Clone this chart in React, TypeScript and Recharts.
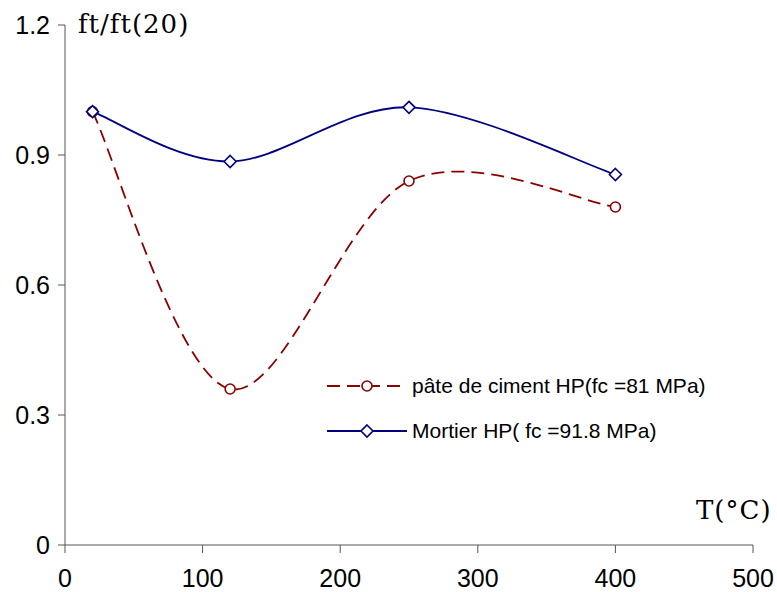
import React from 'react';
import { LineChart, Line, XAxis, YAxis } from 'recharts';

const temps = [20, 120, 250, 400];
const pateValues = [1.0, 0.36, 0.84, 0.78];
const mortierValues = [1.0, 0.885, 1.01, 0.855];
const xTicks = [0, 100, 200, 300, 400, 500];
const yTicks = [0, 0.3, 0.6, 0.9, 1.2];

const chartData = temps.map((t, i) => ({
  t,
  pate: pateValues[i],
  mortier: mortierValues[i],
}));

const RED = '#8b0000';
const BLUE = '#000080';
const SANS = 'Liberation Sans, Arial, sans-serif';

// smoothing like a spreadsheet "smoothed line": bezier with tangents (P[i+1]-P[i-1])/6
const smoothCurve = (context: any) => {
  let pts: number[][] = [];
  return {
    areaStart() {},
    areaEnd() {},
    lineStart() {
      pts = [];
    },
    point(x: number, y: number) {
      pts.push([+x, +y]);
    },
    lineEnd() {
      const n = pts.length;
      if (!n) return;
      context.moveTo(pts[0][0], pts[0][1]);
      for (let i = 0; i < n - 1; i++) {
        const p0 = pts[Math.max(i - 1, 0)];
        const p1 = pts[i];
        const p2 = pts[i + 1];
        const p3 = pts[Math.min(i + 2, n - 1)];
        context.bezierCurveTo(
          p1[0] + (p2[0] - p0[0]) / 6,
          p1[1] + (p2[1] - p0[1]) / 6,
          p2[0] - (p3[0] - p1[0]) / 6,
          p2[1] - (p3[1] - p1[1]) / 6,
          p2[0],
          p2[1]
        );
      }
    },
  };
};

const Diamond = (props: any) => {
  const { cx, cy, stroke } = props;
  if (cx == null || cy == null) return null;
  const s = 6;
  return (
    <path
      d={`M${cx},${cy - s}L${cx + s},${cy}L${cx},${cy + s}L${cx - s},${cy}Z`}
      fill="#fff"
      stroke={stroke}
      strokeWidth={1.6}
    />
  );
};

const Circle = (props: any) => {
  const { cx, cy, stroke } = props;
  if (cx == null || cy == null) return null;
  return <circle cx={cx} cy={cy} r={5} fill="#fff" stroke={stroke} strokeWidth={1.6} />;
};

const LegendBox = () => (
  <svg width={420} height={80} style={{ overflow: 'visible', display: 'block' }}>
    <line x1={5} y1={15} x2={85} y2={15} stroke={RED} strokeWidth={1.8} strokeDasharray="13 7" />
    <circle cx={45} cy={15} r={5} fill="#fff" stroke={RED} strokeWidth={1.6} />
    <text x={90} y={22} fontSize={21} fontFamily={SANS} fill="#000">
      pâte de ciment HP(fc =81 MPa)
    </text>
    <line x1={5} y1={60} x2={85} y2={60} stroke={BLUE} strokeWidth={1.8} />
    <path d="M45,54L51,60L45,66L39,60Z" fill="#fff" stroke={BLUE} strokeWidth={1.6} />
    <text x={90} y={67} fontSize={21} fontFamily={SANS} fill="#000">
      Mortier HP( fc =91.8 MPa)
    </text>
  </svg>
);

const tickStyle = { fontSize: 25, fill: '#000', fontFamily: SANS };

export default function App() {
  return (
    <div
      style={{
        position: 'fixed',
        left: 0,
        top: 0,
        width: 777,
        height: 592,
        background: '#fff',
      }}
    >
      <LineChart
        width={777}
        height={592}
        data={chartData}
        margin={{ top: 25, right: 24, left: 0, bottom: 0 }}
      >
        <XAxis
          type="number"
          dataKey="t"
          domain={[0, 500]}
          ticks={xTicks}
          tick={tickStyle}
          tickSize={8}
          tickMargin={16}
          height={47}
          stroke="#555"
          tickLine={{ stroke: '#555' }}
        />
        <YAxis
          type="number"
          domain={[0, 1.2]}
          ticks={yTicks}
          tick={tickStyle}
          tickSize={7}
          tickMargin={8}
          width={65}
          stroke="#555"
          tickLine={{ stroke: '#555' }}
        />
        <Line
          type={smoothCurve as any}
          dataKey="pate"
          stroke={RED}
          strokeWidth={1.8}
          strokeDasharray="13 7"
          dot={<Circle />}
          isAnimationActive={false}
        />
        <Line
          type={smoothCurve as any}
          dataKey="mortier"
          stroke={BLUE}
          strokeWidth={1.8}
          dot={<Diamond />}
          isAnimationActive={false}
        />
      </LineChart>
      <div style={{ position: 'absolute', left: 322, top: 371 }}>
        <LegendBox />
      </div>
      <div
        style={{
          position: 'absolute',
          left: 78,
          top: 9,
          fontFamily: 'DejaVu Serif, serif',
          fontSize: 26,
          letterSpacing: 1,
          color: '#000',
        }}
      >
        ft/ft(20)
      </div>
      <div
        style={{
          position: 'absolute',
          left: 696,
          top: 495,
          fontFamily: 'DejaVu Serif, serif',
          fontSize: 26,
          letterSpacing: 1,
          color: '#000',
        }}
      >
        T(°C)
      </div>
    </div>
  );
}
